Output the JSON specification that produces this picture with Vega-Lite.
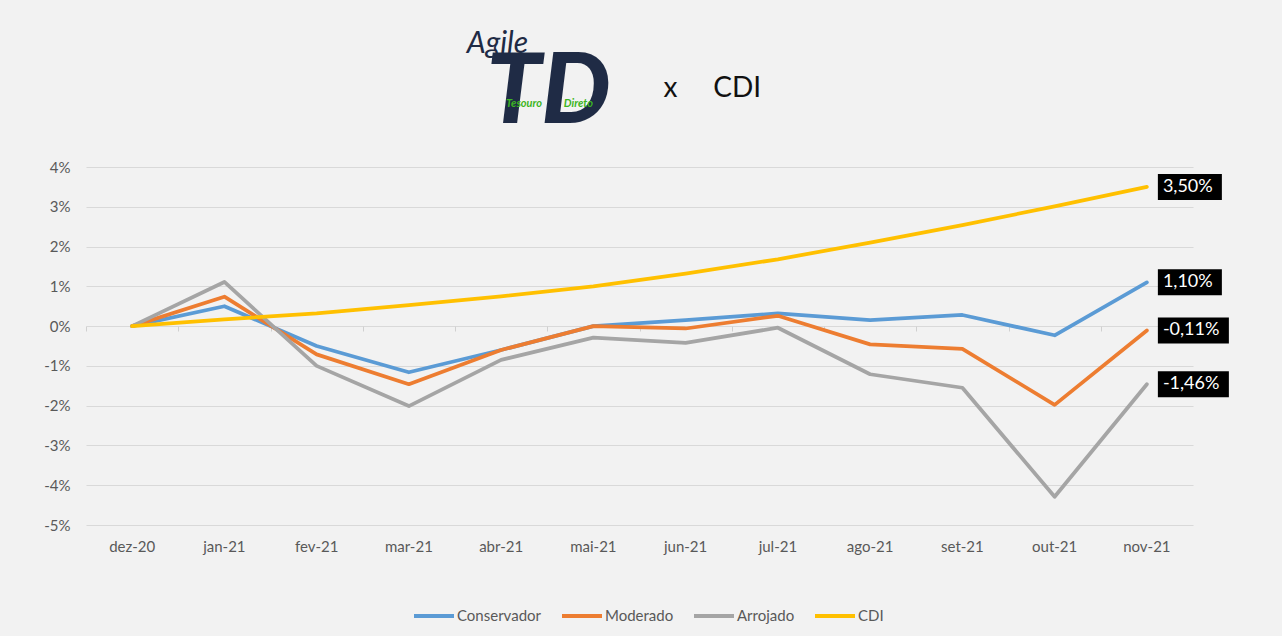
{
  "$schema": "https://vega.github.io/schema/vega-lite/v6.json",
  "width": 1107,
  "height": 358,
  "autosize": {"type": "none"},
  "padding": {"left": 86, "top": 167, "right": 89, "bottom": 111},
  "background": "#f2f2f2",
  "config": {
    "view": {"stroke": null},
    "font": "Lato",
    "locale": {"number": {"decimal": ",", "thousands": ".", "grouping": [3], "currency": ["R$", ""], "minus": "-"}},
    "axis": {"labelFont": "Lato", "titleFont": "Lato"},
    "legend": {"labelFont": "Lato"}
  },
  "data": {
    "values": [
      {"m": "dez-20", "s": "Conservador", "v": 0},
      {"m": "jan-21", "s": "Conservador", "v": 0.0050},
      {"m": "fev-21", "s": "Conservador", "v": -0.0050},
      {"m": "mar-21", "s": "Conservador", "v": -0.0116},
      {"m": "abr-21", "s": "Conservador", "v": -0.0060},
      {"m": "mai-21", "s": "Conservador", "v": 0.0000},
      {"m": "jun-21", "s": "Conservador", "v": 0.0015},
      {"m": "jul-21", "s": "Conservador", "v": 0.0032},
      {"m": "ago-21", "s": "Conservador", "v": 0.0015},
      {"m": "set-21", "s": "Conservador", "v": 0.0028},
      {"m": "out-21", "s": "Conservador", "v": -0.0023},
      {"m": "nov-21", "s": "Conservador", "v": 0.0110},
      {"m": "dez-20", "s": "Moderado", "v": 0},
      {"m": "jan-21", "s": "Moderado", "v": 0.0074},
      {"m": "fev-21", "s": "Moderado", "v": -0.0071},
      {"m": "mar-21", "s": "Moderado", "v": -0.0146},
      {"m": "abr-21", "s": "Moderado", "v": -0.0060},
      {"m": "mai-21", "s": "Moderado", "v": 0.0000},
      {"m": "jun-21", "s": "Moderado", "v": -0.0006},
      {"m": "jul-21", "s": "Moderado", "v": 0.0026},
      {"m": "ago-21", "s": "Moderado", "v": -0.0046},
      {"m": "set-21", "s": "Moderado", "v": -0.0057},
      {"m": "out-21", "s": "Moderado", "v": -0.0198},
      {"m": "nov-21", "s": "Moderado", "v": -0.0011},
      {"m": "dez-20", "s": "Arrojado", "v": 0},
      {"m": "jan-21", "s": "Arrojado", "v": 0.0111},
      {"m": "fev-21", "s": "Arrojado", "v": -0.0100},
      {"m": "mar-21", "s": "Arrojado", "v": -0.0201},
      {"m": "abr-21", "s": "Arrojado", "v": -0.0085},
      {"m": "mai-21", "s": "Arrojado", "v": -0.0029},
      {"m": "jun-21", "s": "Arrojado", "v": -0.0042},
      {"m": "jul-21", "s": "Arrojado", "v": -0.0004},
      {"m": "ago-21", "s": "Arrojado", "v": -0.0121},
      {"m": "set-21", "s": "Arrojado", "v": -0.0155},
      {"m": "out-21", "s": "Arrojado", "v": -0.0429},
      {"m": "nov-21", "s": "Arrojado", "v": -0.0146},
      {"m": "dez-20", "s": "CDI", "v": 0},
      {"m": "jan-21", "s": "CDI", "v": 0.0017},
      {"m": "fev-21", "s": "CDI", "v": 0.0032},
      {"m": "mar-21", "s": "CDI", "v": 0.0053},
      {"m": "abr-21", "s": "CDI", "v": 0.0075},
      {"m": "mai-21", "s": "CDI", "v": 0.0100},
      {"m": "jun-21", "s": "CDI", "v": 0.0132},
      {"m": "jul-21", "s": "CDI", "v": 0.0168},
      {"m": "ago-21", "s": "CDI", "v": 0.0210},
      {"m": "set-21", "s": "CDI", "v": 0.0254},
      {"m": "out-21", "s": "CDI", "v": 0.0301},
      {"m": "nov-21", "s": "CDI", "v": 0.0350}
    ]
  },
  "layer": [
    {
      "mark": {"type": "line", "strokeWidth": 3.75, "strokeCap": "round", "strokeJoin": "round"},
      "encoding": {
        "x": {
          "field": "m", "type": "nominal",
          "scale": {"type": "band", "paddingInner": 0, "paddingOuter": 0, "domain": ["dez-20","jan-21","fev-21","mar-21","abr-21","mai-21","jun-21","jul-21","ago-21","set-21","out-21","nov-21"]},
          "axis": {
            "orient": "bottom", "labelAngle": 0, "labelFontSize": 15, "labelColor": "#595959",
            "labelPadding": 14, "ticks": false, "domain": false, "grid": false,
            "title": "TD", "titleFontSize": 98, "titleFontWeight": 900, "titleFontStyle": "italic",
            "titleColor": "#1f2b45", "titleX": 462, "titleY": -432, "titleAngle": 0,
            "titleAlign": "center", "titleBaseline": "middle"
          }
        },
        "y": {
          "field": "v", "type": "quantitative",
          "scale": {"domain": [-0.05, 0.04], "nice": false, "zero": false},
          "axis": {
            "orient": "left", "values": [-0.05, -0.04, -0.03, -0.02, -0.01, 0, 0.01, 0.02, 0.03, 0.04],
            "format": ".0%", "labelFontSize": 15, "labelColor": "#595959", "labelPadding": 16,
            "ticks": false, "domain": false, "grid": true, "gridColor": "#d9d9d9", "gridWidth": 1,
            "title": "x\u00a0\u00a0\u00a0\u00a0\u00a0CDI", "titleFontSize": 28, "titleFontWeight": "normal", "titleColor": "#111111",
            "titleX": 577, "titleY": -79, "titleAngle": 0, "titleAlign": "left", "titleBaseline": "middle"
          }
        },
        "color": {
          "field": "s", "type": "nominal",
          "scale": {"domain": ["Conservador", "Moderado", "Arrojado", "CDI"], "range": ["#5b9bd5", "#ed7d31", "#a5a5a5", "#ffc000"]},
          "legend": {
            "orient": "none", "legendX": 326, "legendY": 427, "direction": "horizontal", "title": null,
            "symbolType": "stroke", "symbolSize": 1600, "symbolStrokeWidth": 4,
            "labelFontSize": 15, "labelColor": "#595959", "labelOffset": 1,
            "columnPadding": 12
          }
        }
      }
    },
    {
      "transform": [{"filter": "datum.m === 'nov-21'"}],
      "encoding": {
        "x": {
          "field": "m", "type": "nominal",
          "scale": {"type": "band", "paddingInner": 0, "paddingOuter": 0, "domain": ["dez-20","jan-21","fev-21","mar-21","abr-21","mai-21","jun-21","jul-21","ago-21","set-21","out-21","nov-21"]},
          "axis": {
            "orient": "top", "labels": false, "domain": false, "grid": false,
            "ticks": true, "tickBand": "extent", "tickSize": -5, "tickColor": "#d0d0d0", "tickWidth": 1,
            "offset": -159,
            "title": "Agile", "titleFontSize": 30, "titleFontStyle": "italic", "titleFontWeight": "normal",
            "titleColor": "#1f2b45", "titleX": 411, "titleY": -283, "titleAlign": "center", "titleBaseline": "middle", "titleAngle": 0
          }
        },
        "y": {
          "field": "v", "type": "quantitative",
          "scale": {"domain": [-0.05, 0.04], "nice": false, "zero": false},
          "axis": {
            "orient": "right", "labels": false, "ticks": false, "domain": false, "grid": false,
            "title": "Tesouro\u00a0\u00a0\u00a0\u00a0\u00a0\u00a0\u00a0\u00a0\u00a0Direto", "titleFontSize": 11, "titleFontStyle": "italic", "titleFontWeight": "bold",
            "titleColor": "#3cb521", "titleX": -644, "titleY": -64, "titleAlign": "center", "titleBaseline": "middle", "titleAngle": 0
          }
        }
      },
      "layer": [
        {
          "mark": {"type": "point", "filled": true, "color": "#000000", "opacity": 1, "size": 4, "strokeWidth": 0},
          "encoding": {
            "shape": {
              "condition": {"test": "datum.v < 0", "value": "M11,-13H82V13H11Z"},
              "value": "M11,-13H75V13H11Z"
            }
          }
        },
        {
          "mark": {"type": "text", "align": "left", "baseline": "middle", "dx": 16, "fontSize": 18, "color": "#ffffff", "font": "Lato"},
          "encoding": {
            "text": {"field": "v", "type": "quantitative", "format": ".2%"}
          }
        }
      ]
    }
  ],
  "resolve": {"axis": {"x": "independent", "y": "independent"}}
}
